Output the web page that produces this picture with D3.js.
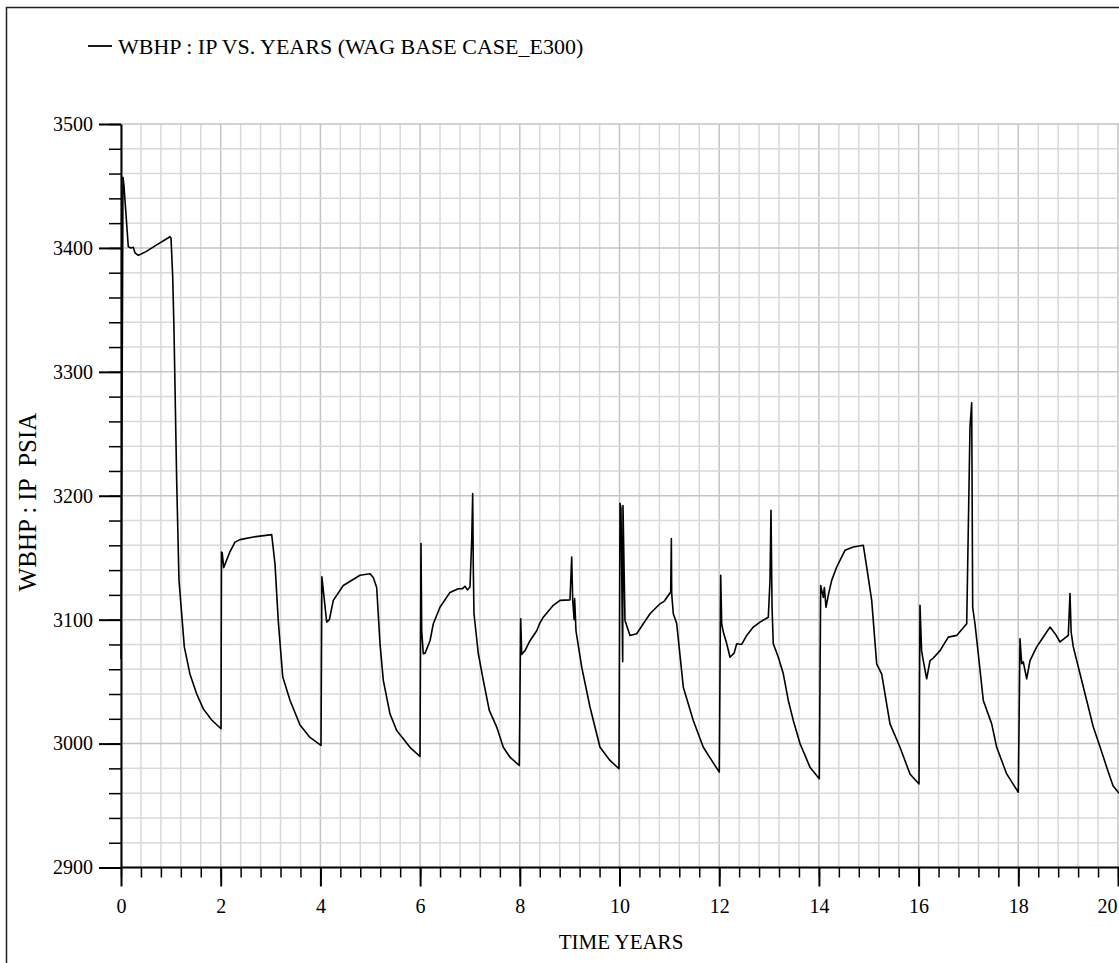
<!DOCTYPE html>
<html><head><meta charset="utf-8">
<script src="https://cdn.jsdelivr.net/npm/d3@7/dist/d3.min.js"></script>
<style>
body{margin:0;background:#fff;}
svg text{font-family:"Liberation Serif","Times New Roman",serif !important;fill:#000;}
</style></head>
<body><svg id="c" width="1119" height="963"></svg>
<script>
const seriesName = "WBHP : IP VS. YEARS (WAG BASE CASE_E300)";
const xTitle = "TIME YEARS";
const yTitle = "WBHP : IP  PSIA";
const xMajorTicks = [0,2,4,6,8,10,12,14,16,18,20];
const yMajorTicks = [2900,3000,3100,3200,3300,3400,3500];

const years = [
0,0.04,0.06,0.146,0.2,0.247,0.281,0.347,0.5,0.7,0.983,1.003,1.037,1.063,1.117,1.163,1.27,1.384,1.519,1.651,1.819,2.006,
2.016,2.03,2.06,2.187,2.287,2.387,2.654,3.023,3.089,3.155,3.244,3.39,3.591,3.791,4.012,
4.03,4.126,4.18,4.259,4.459,4.794,4.995,5.061,5.129,5.196,5.262,5.396,5.531,5.797,5.998,
6.018,6.032,6.064,6.1,6.199,6.265,6.399,6.6,6.766,6.85,6.9,6.95,7.001,7.035,7.055,7.067,7.081,7.168,7.268,7.388,7.537,7.669,7.803,7.99,
8.018,8.038,8.104,8.205,8.339,8.4,8.471,8.672,8.806,9.007,9.041,9.061,9.09,9.1,9.127,9.242,9.408,9.609,9.809,9.99,
10.01,10.03,10.064,10.07,10.11,10.211,10.345,10.477,10.612,10.812,10.9,11.027,11.04,11.047,11.079,11.147,11.28,11.48,11.681,11.849,12.002,
12.03,12.05,12.083,12.151,12.217,12.3,12.351,12.451,12.552,12.684,12.818,12.985,13.019,13.039,13.06,13.085,13.186,13.286,13.386,13.486,13.621,13.821,14.008,
14.036,14.088,14.11,14.142,14.2,14.257,14.357,14.523,14.69,14.891,14.959,15.059,15.159,15.26,15.426,15.627,15.827,16.008,
16.028,16.06,16.094,16.162,16.229,16.295,16.43,16.596,16.764,16.965,17.031,17.065,17.085,17.131,17.197,17.298,17.466,17.567,17.767,18.0,
18.034,18.068,18.1,18.168,18.235,18.369,18.502,18.636,18.75,18.837,19.003,19.037,19.06,19.103,19.238,19.372,19.505,19.639,19.773,19.9,20.02
];
const wbhp = [
3068,3457,3450,3401,3400,3400.5,3396,3394,3397,3402,3409,3408,3377,3334,3212,3132,3078,3056,3040,3028,3019,3012,
3154.6,3154,3142,3155,3162.6,3164.6,3166.7,3168.6,3145,3099,3054,3035,3015,3005,2998.5,
3134.6,3098,3100,3115.6,3127.6,3135.8,3137,3134,3126,3080.6,3051,3024,3010.6,2997,2989.6,
3161.4,3091,3072.5,3073,3083,3096.7,3110,3122,3125,3125,3127,3124,3126.3,3164,3201.7,3142.5,3104.8,3072.5,3051,3026.8,3013.3,2997,2989,2982.3,
3100.7,3072,3075,3083,3091,3097,3102,3111.6,3115.6,3116,3150.6,3116,3100,3117,3091,3061.7,3029.5,2997,2986.4,2979.7,
3194,3190,3066,3192,3099.4,3087.3,3088.6,3096.7,3104.8,3112.8,3115,3122.3,3165.4,3121,3104.8,3097,3045.5,3018.7,2997,2986.4,2977,
3135.8,3096.7,3090,3080.6,3069.7,3073,3080.6,3080,3087.3,3094,3098,3102,3131.7,3188.3,3110,3080.6,3069.7,3056.3,3034.8,3018.7,3000,2981,2971.6,
3127.6,3118,3126,3110,3122,3131.7,3142.5,3156,3158.6,3160,3142.5,3115.6,3064.4,3056,3015.9,2997,2975.5,2967.4,
3111.6,3075,3067,3052.3,3067,3069,3075,3085.9,3087.3,3096.7,3255.5,3275,3110,3096.7,3072.5,3034.8,3015.9,2997,2975.5,2960.7,
3084.6,3064.4,3066,3052.3,3067,3078,3086,3094,3088,3082,3087.3,3121,3090,3078,3056.3,3034.8,3013.3,2997.4,2981,2966,2960
];

const svg = d3.select("#c");
const x = d3.scaleLinear().domain([0,20]).range([121,1118]);
const y = d3.scaleLinear().domain([2900,3500]).range([867.5,124]);
const xMinor = d3.range(0,51).map(i=>+(i*0.4).toFixed(2));
const yMinor = d3.range(0,31).map(i=>2900+i*20);
const SERIF = '"Liberation Serif", "Times New Roman", serif';

// frame
svg.append("path").attr("d","M6.5,963V7.5H1119").attr("fill","none").attr("stroke","#222").attr("stroke-width",1.5);

// grid
const g = svg.append("g");
g.selectAll(".vg").data(xMinor).join("line")
 .attr("x1",d=>x(d)).attr("x2",d=>x(d)).attr("y1",y(3500)).attr("y2",y(2900))
 .attr("stroke",d=>xMajorTicks.includes(d)?"#c4c4c4":"#d9d9d9").attr("stroke-width",1.5);
g.selectAll(".hg").data(yMinor).join("line")
 .attr("x1",x(0)).attr("x2",1119).attr("y1",d=>y(d)).attr("y2",d=>y(d))
 .attr("stroke",d=>yMajorTicks.includes(d)?"#c4c4c4":"#d9d9d9").attr("stroke-width",1.5);

// axes
const font = g2=>{ g2.attr("font-family",SERIF).attr("font-size",20);
  g2.selectAll("text").attr("font-family",SERIF).attr("font-size",20).style("font-size","20px"); };
svg.append("g").attr("transform",`translate(0,${y(2900)})`)
 .call(d3.axisBottom(x).tickValues(xMinor).tickSize(10).tickFormat("").tickSizeOuter(0))
 .call(a=>a.select(".domain").remove()).selectAll("line").attr("stroke","#000").attr("stroke-width",1.5);
svg.append("g").attr("transform",`translate(${x(0)},0)`)
 .call(d3.axisLeft(y).tickValues(yMinor).tickSize(12).tickFormat("").tickSizeOuter(0))
 .call(a=>a.select(".domain").remove()).selectAll("line").attr("stroke","#000").attr("stroke-width",1.5);
const xa = svg.append("g").attr("transform",`translate(0,${y(2900)})`)
 .call(d3.axisBottom(x).tickValues(xMajorTicks).tickSize(19).tickPadding(12).tickFormat(d3.format("d")).tickSizeOuter(0))
 .call(font);
xa.selectAll("line").attr("stroke","#000").attr("stroke-width",2);
xa.select(".domain").attr("stroke","#000").attr("stroke-width",2).attr("d",`M${x(0)},0H1119`);
xa.selectAll(".tick").filter(d=>d===20).select("text").attr("text-anchor","end").attr("x",-1);
const ya = svg.append("g").attr("transform",`translate(${x(0)},0)`)
 .call(d3.axisLeft(y).tickValues(yMajorTicks).tickSize(22).tickPadding(6).tickFormat(d3.format("d")).tickSizeOuter(0))
 .call(font);
ya.selectAll("line").attr("stroke","#000").attr("stroke-width",2);
ya.select(".domain").attr("stroke","#000").attr("stroke-width",2);

// data line
svg.append("clipPath").attr("id","clip").append("rect").attr("x",x(0)-2).attr("y",y(3500)).attr("width",1119-x(0)+2).attr("height",y(2900)-y(3500));
const data = years.map((t,i)=>[t,wbhp[i]]);
svg.append("path").datum(data).attr("clip-path","url(#clip)")
 .attr("d",d3.line().x(d=>x(d[0])).y(d=>y(d[1])))
 .attr("fill","none").attr("stroke","#000").attr("stroke-width",1.6).attr("stroke-linejoin","round");

// legend
svg.append("line").attr("x1",88).attr("x2",112).attr("y1",46).attr("y2",46).attr("stroke","#000").attr("stroke-width",1.8);
svg.append("text").attr("x",118).attr("y",46).attr("dy","0.35em").attr("font-family",SERIF).style("font-size","22px").text(seriesName);

// titles
svg.append("text").attr("x",621).attr("y",949).attr("text-anchor","middle").attr("font-family",SERIF).style("font-size","21px").text(xTitle);
svg.append("text").attr("transform","translate(36,502) rotate(-90)").attr("text-anchor","middle").attr("font-family",SERIF)
 .style("font-size","25px").style("white-space","pre").text(yTitle);
</script></body></html>
